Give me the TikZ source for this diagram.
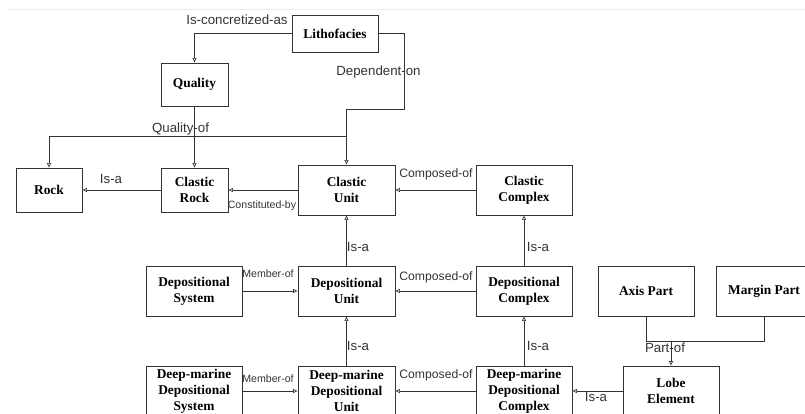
\documentclass[tikz,border=0pt]{standalone}
\usepackage{fontspec}
\setmainfont{Liberation Serif}
\setsansfont{Liberation Sans}
\usetikzlibrary{arrows.meta}
\definecolor{ink}{HTML}{333333}
\tikzset{
  box/.style={draw=ink, line width=0.9pt, inner sep=0pt, align=center,
    font=\fontsize{13.4}{16}\selectfont\bfseries, text=black},
  rel/.style={draw=ink, line width=0.9pt},
  arr/.style={rel, -{Triangle[open,length=4.5pt,width=4pt,line width=0.7pt]}},
  lbl/.style={anchor=base, inner sep=0pt, text=ink, font=\sffamily\fontsize{13.3}{15}\selectfont},
  lblm/.style={lbl, font=\sffamily\fontsize{12.2}{14}\selectfont},
  lbls/.style={lbl, font=\sffamily\fontsize{10.6}{12}\selectfont},
}
\begin{document}
\begin{tikzpicture}[x=1pt,y=-1pt]
\useasboundingbox (0,0) rectangle (805,414);
\clip (0,0) rectangle (805,414);
% page rule at the top
\draw[black!8, line width=0.8pt] (8,9) -- (805,9);

% concept boxes
\node[box, minimum width=86pt, minimum height=37pt] (lith) at (335,33.5) {Lithofacies};
\node[box, minimum width=67pt, minimum height=43pt] (quality) at (194.5,84.5) {Quality};
\node[box, minimum width=66pt, minimum height=44pt] (rock) at (49,190) {Rock};
\node[box, minimum width=67pt, minimum height=44pt] (crock) at (194.5,190) {Clastic\\Rock};
\node[box, minimum width=97pt, minimum height=50pt] (cunit) at (346.5,190) {Clastic\\Unit};
\node[box, minimum width=96pt, minimum height=50pt] (ccomplex) at (524,190) {Clastic\\Complex};

\node[box, minimum width=96pt, minimum height=50pt] (dsys) at (194,291) {Depositional\\System};
\node[box, minimum width=97pt, minimum height=50pt] (dunit) at (346.5,291) {Depositional\\Unit};
\node[box, minimum width=96pt, minimum height=50pt] (dcomplex) at (524,291) {Depositional\\Complex};
\node[box, minimum width=96pt, minimum height=50pt] (axis) at (646,291) {Axis Part};
\node[box, minimum width=96pt, minimum height=50pt] (margin) at (764,291) {Margin Part};

\node[box, minimum width=96pt, minimum height=50pt] (dmsys) at (194,391) {Deep-marine\\Depositional\\System};
\node[box, minimum width=97pt, minimum height=50pt] (dmunit) at (346.5,391) {Deep-marine\\Depositional\\Unit};
\node[box, minimum width=96pt, minimum height=50pt] (dmcomplex) at (524,391) {Deep-marine\\Depositional\\Complex};
\node[box, minimum width=96pt, minimum height=50pt] (lobe) at (671,391) {Lobe\\Element};

% bend points of the routed connectors
\coordinate (depA) at (404,109);
\coordinate (depB) at (346.5,109);
\coordinate (qof) at (346.5,136);
\coordinate (partA) at (646,341);
\coordinate (partB) at (764,341);
\coordinate (partC) at (671,341);

% connectors
\draw[arr] (lith.west) -| (quality.north);
\draw[arr] (lith.east) -| (depA) -- (depB) -- (cunit.north);
\draw[arr] (quality.south) -- (crock.north);
\draw[arr] (qof) -| (rock.north);
\draw[arr] (crock.west) -- (rock.east);
\draw[arr] (cunit.west) -- (crock.east);
\draw[arr] (ccomplex.west) -- (cunit.east);
\draw[arr] (dunit.north) -- (cunit.south);
\draw[arr] (dcomplex.north) -- (ccomplex.south);
\draw[arr] (dsys.east) -- (dunit.west);
\draw[arr] (dcomplex.west) -- (dunit.east);
\draw[arr] (dmunit.north) -- (dunit.south);
\draw[arr] (dmcomplex.north) -- (dcomplex.south);
\draw[arr] (dmsys.east) -- (dmunit.west);
\draw[arr] (dmcomplex.west) -- (dmunit.east);
\draw[arr] (lobe.west) -- (dmcomplex.east);
\draw[rel] (axis.south) -- (partA) -- (partB) -- (margin.south);
\draw[arr] (partC) -- (lobe.north);

% relation labels
\node[lbl] (l1) at (237,25) {Is-concretized-as};
\node[lbl] (l2) at (378.5,76) {Dependent-on};
\node[lbl] (l3) at (180.5,133) {Quality-of};
\node[lbl] (l4) at (111,184) {Is-a};
\node[lbls] (l5) at (262,208) {Constituted-by};
\node[lblm] (l6) at (436,177.5) {Composed-of};
\node[lbl] (l7) at (358,251) {Is-a};
\node[lbl] (l8) at (538,251) {Is-a};
\node[lbls] (l9) at (268,277) {Member-of};
\node[lblm] (l10) at (436,280.5) {Composed-of};
\node[lbl] (l11) at (358,350) {Is-a};
\node[lbl] (l12) at (538,350) {Is-a};
\node[lbls] (l13) at (268,382.5) {Member-of};
\node[lblm] (l14) at (436,378) {Composed-of};
\node[lbl] (l15) at (596,401) {Is-a};
\node[lbl] (l16) at (665,352.5) {Part-of};
\end{tikzpicture}
\end{document}
